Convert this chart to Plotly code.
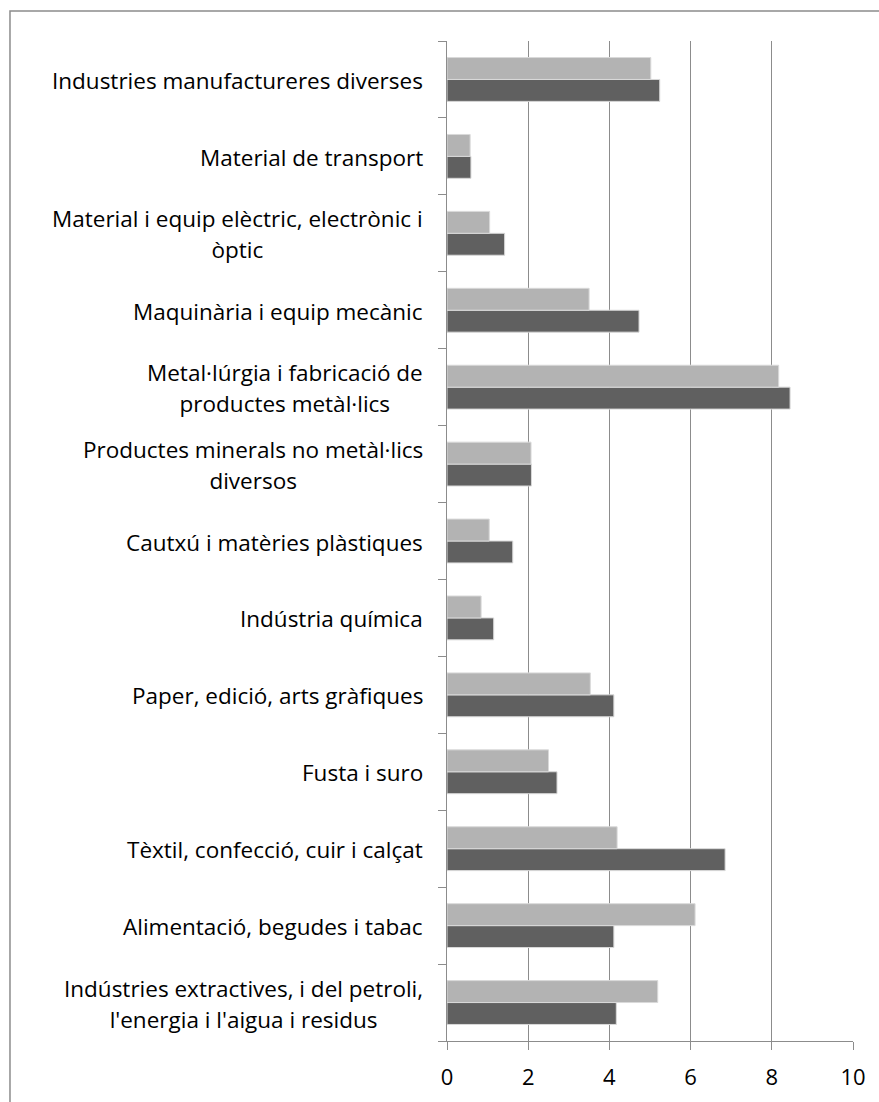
import plotly.graph_objects as go

# Categories listed bottom -> top
categories = [
    "Indústries extractives, i del petroli,<br>l'energia i l'aigua i residus",
    "Alimentació, begudes i tabac",
    "Tèxtil, confecció, cuir i calçat",
    "Fusta i suro",
    "Paper, edició, arts gràfiques",
    "Indústria química",
    "Cautxú i matèries plàstiques",
    "Productes minerals no metàl·lics<br>diversos",
    "Metal·lúrgia i fabricació de<br>productes metàl·lics",
    "Maquinària i equip mecànic",
    "Material i equip elèctric, electrònic i<br>òptic",
    "Material de transport",
    "Industries manufactureres diverses",
]
series_dark = [4.17, 4.11, 6.85, 2.71, 4.11, 1.15, 1.62, 2.08, 8.45, 4.73, 1.42, 0.59, 5.24]
series_light = [5.19, 6.11, 4.19, 2.50, 3.53, 0.84, 1.04, 2.07, 8.17, 3.50, 1.05, 0.57, 5.02]
x_ticks = [0, 2, 4, 6, 8, 10]
title_text = "Estructura de l'empresa i pes de cada sector industrial (percentatge)"

ids = [str(i) for i in range(len(categories))]

fig = go.Figure()
fig.add_trace(go.Bar(
    y=ids, x=series_dark, orientation="h", name="dark",
    marker=dict(color="#606060", line=dict(color="#d9d9d9", width=1)),
))
fig.add_trace(go.Bar(
    y=ids, x=series_light, orientation="h", name="light",
    marker=dict(color="#b3b3b3", line=dict(color="#d9d9d9", width=1)),
))

font_family = "'Open Sans', Lato, sans-serif"
span_open = '<span style="font-size:22.5px">'
annotations = []
for cid, label in zip(ids, categories):
    annotations.append(dict(
        x=0, xref="paper", y=cid, yref="y",
        text=span_open + label.replace("<br>", "</span><br>" + span_open) + "</span>",
        showarrow=False, align="center",
        xanchor="right", yanchor="middle", xshift=-22, yshift=-1,
        font=dict(family=font_family, size=23.5, color="#000000"),
    ))
annotations.append(dict(
    x=0.867, xref="paper", y=1, yref="paper", text="<b>" + title_text + "</b>",
    showarrow=False, xanchor="right", yanchor="bottom", yshift=40,
    font=dict(family=font_family, size=21, color="#000000"),
))

fig.update_layout(
    width=879, height=1102,
    margin=dict(l=447, r=26, t=41, b=61),
    paper_bgcolor="white", plot_bgcolor="white",
    barmode="group", bargap=0.43, bargroupgap=0,
    showlegend=False,
    annotations=annotations,
    shapes=[dict(
        type="rect", xref="paper", yref="paper",
        x0=-1.0764, x1=2.0, y0=-1.0, y1=1.030,
        line=dict(color="#8c8c8c", width=1.5), fillcolor="rgba(0,0,0,0)",
        layer="below",
    )],
    xaxis=dict(
        range=[0, 10], tickvals=x_ticks, ticktext=[str(v) for v in x_ticks],
        showgrid=True, gridcolor="#8c8c8c", gridwidth=1,
        showline=True, linecolor="#8c8c8c", linewidth=1,
        ticks="outside", ticklen=8, tickcolor="#8c8c8c",
        ticklabelstandoff=9,
        tickfont=dict(family=font_family, size=22, color="#000000"),
        zeroline=False, fixedrange=True,
    ),
    yaxis=dict(
        categoryorder="array", categoryarray=ids,
        showticklabels=False, showgrid=False,
        showline=True, linecolor="#8c8c8c", linewidth=1,
        ticks="outside", ticklen=8, tickcolor="#8c8c8c", tickson="boundaries",
        zeroline=False, fixedrange=True,
    ),
)

fig.write_html("out.html", config={"displayModeBar": False},
               post_script="document.body.style.margin='0';")
